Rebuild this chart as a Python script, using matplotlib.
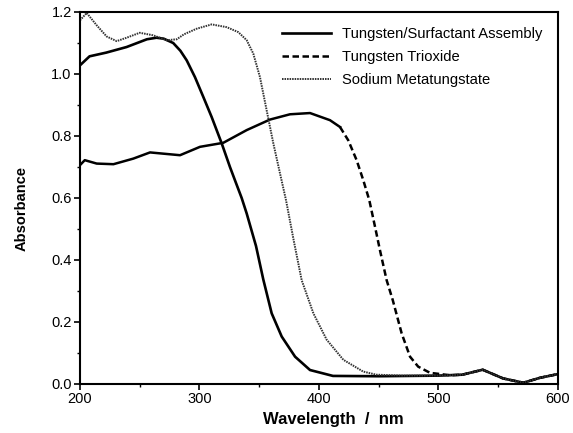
import numpy as np
import matplotlib
matplotlib.use("Agg")
import matplotlib.pyplot as plt
from matplotlib.ticker import MultipleLocator, FormatStrFormatter

plt.rcParams["font.family"] = ["Liberation Sans", "DejaVu Sans"]

# Tungsten/Surfactant Assembly (solid)
wl_assembly = [200, 208, 222, 239, 256, 264, 270, 278, 284, 289.3, 296.2, 303.2,
               310.2, 318.6, 325.5, 329.7, 335.3, 339.5, 347.3, 353.4, 360.4,
               368.8, 380, 392.5, 411.7, 450, 500, 520, 537, 554, 571, 585, 600]
abs_assembly = [1.028, 1.057, 1.069, 1.087, 1.112, 1.117, 1.114, 1.100, 1.075,
                1.044, 0.990, 0.926, 0.861, 0.776, 0.700, 0.657, 0.600, 0.550,
                0.445, 0.337, 0.228, 0.153, 0.088, 0.045, 0.026, 0.025, 0.027,
                0.030, 0.046, 0.018, 0.004, 0.020, 0.032]

# Tungsten Trioxide (dashed)
wl_trioxide = [200, 204, 214, 228, 244.6, 258.6, 269.7, 283.7, 300.4, 319.9,
               339.5, 359, 375.7, 392.5, 409.2, 417.6, 424.5, 431.5, 437.1,
               442.1, 446.9, 451, 456.6, 461.7, 469.2, 476.2, 483, 492.9, 510,
               520, 537, 554, 571, 585, 600]
abs_trioxide = [0.706, 0.722, 0.711, 0.709, 0.727, 0.747, 0.743, 0.738, 0.765,
                0.778, 0.819, 0.853, 0.870, 0.874, 0.851, 0.829, 0.786, 0.722,
                0.657, 0.593, 0.507, 0.432, 0.335, 0.271, 0.163, 0.088, 0.056,
                0.036, 0.028, 0.030, 0.046, 0.018, 0.004, 0.020, 0.032]

# Sodium Metatungstate (dotted)
wl_meta = [200, 205.6, 214, 222.3, 230.7, 239, 250, 261, 272.5, 281, 287,
           297.6, 310.2, 322.8, 332.5, 339.5, 345, 350.6, 356.2, 361.8, 367.4,
           372.4, 379, 385.5, 395.3, 406.4, 420.4, 437, 448, 470, 500, 520,
           537, 554, 571, 585, 600]
abs_meta = [1.173, 1.197, 1.157, 1.121, 1.106, 1.117, 1.133, 1.125, 1.109,
            1.112, 1.128, 1.146, 1.160, 1.151, 1.135, 1.109, 1.066, 0.990,
            0.883, 0.776, 0.679, 0.593, 0.460, 0.335, 0.228, 0.143, 0.078,
            0.040, 0.030, 0.027, 0.027, 0.030, 0.046, 0.018, 0.004, 0.020,
            0.032]

fig = plt.figure(figsize=(5.73, 4.33), dpi=100)
ax = fig.add_axes([0.1396, 0.1132, 0.8342, 0.8591])

ax.plot(wl_assembly, abs_assembly, color="black", lw=1.9,
        label="Tungsten/Surfactant Assembly")

# the flat part of the trioxide trace prints nearly solid in the original
wt = np.array(wl_trioxide)
at = np.array(abs_trioxide)
flat = wt <= 417.6
steep = wt >= 417.6
ax.plot(wt[flat], at[flat], color="black", lw=1.8)
ax.plot(wt[steep], at[steep], color="black", lw=1.8, ls=(0, (2.6, 1.4)),
        label="Tungsten Trioxide")

ax.plot(wl_meta, abs_meta, color="#333333", lw=1.4, ls=(0, (0.8, 0.5)),
        label="Sodium Metatungstate")

ax.set_xlim(200, 600)
ax.set_ylim(0, 1.2)
ax.xaxis.set_major_locator(MultipleLocator(100))
ax.xaxis.set_minor_locator(MultipleLocator(50))
ax.yaxis.set_major_locator(MultipleLocator(0.2))
ax.yaxis.set_minor_locator(MultipleLocator(0.1))
ax.yaxis.set_major_formatter(FormatStrFormatter("%.1f"))
ax.tick_params(which="major", direction="out", length=4, width=1.2,
               labelsize=10.5, pad=2)
ax.tick_params(which="minor", direction="out", length=2.5, width=1)
for s in ax.spines.values():
    s.set_linewidth(1.5)

ax.set_xlabel("Wavelength  /  nm", fontsize=12, fontweight="bold")
ax.xaxis.set_label_coords(0.529, -0.075)
ax.set_ylabel("Absorbance", fontsize=10.5, fontweight="bold")
ax.yaxis.set_label_coords(-0.108, 0.473)

ax.legend(loc="upper right", frameon=False, fontsize=10.6, handlelength=3.33,
          handletextpad=0.75, labelspacing=0.6, borderaxespad=0.65)

fig.savefig("out.png", dpi=100)
